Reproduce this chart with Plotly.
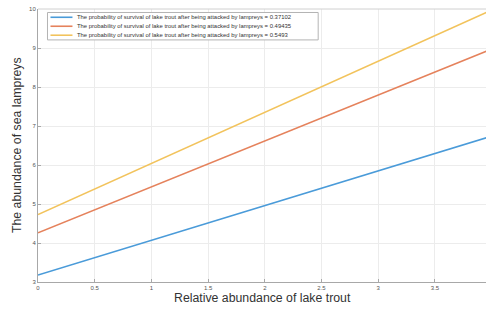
import plotly.graph_objects as go

# Data
x_vals = [0, 4]
survival_probs = ["0.37102", "0.49435", "0.5493"]
blue_vals = [3.18, 6.74]
red_vals = [4.26, 8.97]
yellow_vals = [4.73, 9.97]
series = [blue_vals, red_vals, yellow_vals]
colors = ["#4a9bd9", "#e5825c", "#f2c35c"]
x_ticks = [0, 0.5, 1, 1.5, 2, 2.5, 3, 3.5]
x_tick_labels = ["0", "0.5", "1", "1.5", "2", "2.5", "3", "3.5"]
y_ticks = [3, 4, 5, 6, 7, 8, 9, 10]

W, H = 486, 309
L, R, T, B = 37.5, 0, 8.5, 26.7
pw = W - L - R
ph = H - T - B

fig = go.Figure()
for vals, c in zip(series, colors):
    fig.add_trace(go.Scatter(x=x_vals, y=vals, mode="lines",
                             line=dict(color=c, width=1.6), showlegend=False,
                             hoverinfo="skip"))

def px(xp):
    return (xp - L) / pw

def py(yp):
    return 1 - (yp - T) / ph

shapes = []
annotations = []
# top border line
shapes.append(dict(type="line", xref="paper", yref="paper", x0=0, x1=1, y0=1, y1=1,
                   line=dict(color="#d0d0d0", width=1)))
# Legend box
shapes.append(dict(type="rect", xref="paper", yref="paper",
                   x0=px(47), x1=px(318), y0=py(39.5), y1=py(12),
                   line=dict(color="#b4b4b4", width=1), fillcolor="white", layer="above"))
rows = [16.8, 25.8, 34.8]
for ry, c, p in zip(rows, colors, survival_probs):
    shapes.append(dict(type="line", xref="paper", yref="paper",
                       x0=px(50), x1=px(72), y0=py(ry), y1=py(ry),
                       line=dict(color=c, width=1.6), layer="above"))
    annotations.append(dict(
        xref="paper", yref="paper", x=px(74.5), y=py(ry), xanchor="left", yanchor="middle",
        text=f"The probability of survival of lake trout after being attacked by lampreys = {p}",
        showarrow=False, font=dict(family="Liberation Sans, Arial", size=5.9, color="#333333")))

annotations.append(dict(xref="paper", yref="paper", x=0.5, y=py(298), xanchor="center",
                        yanchor="middle", text="Relative abundance of lake trout", showarrow=False,
                        font=dict(family="Liberation Sans, Arial", size=12.3, color="#333333")))
annotations.append(dict(xref="paper", yref="paper", x=px(16), y=0.5, xanchor="center",
                        yanchor="middle", text="The abundance of sea lampreys", showarrow=False,
                        textangle=-90,
                        font=dict(family="Liberation Sans, Arial", size=12.3, color="#333333")))

fig.update_layout(
    width=W, height=H,
    margin=dict(l=L, r=R, t=T, b=B, pad=0),
    paper_bgcolor="white", plot_bgcolor="white",
    shapes=shapes, annotations=annotations, showlegend=False,
    hovermode=False,
    xaxis=dict(range=[0, 3.95], tickvals=x_ticks, ticktext=x_tick_labels,
               showgrid=True, gridcolor="#ececec", gridwidth=1, zeroline=False,
               showline=True, linecolor="#a8a8a8", linewidth=1,
               ticks="inside", ticklen=3, tickcolor="#a8a8a8",
               tickfont=dict(family="Liberation Sans, Arial", size=6, color="#555555")),
    yaxis=dict(range=[3, 10], tickvals=y_ticks,
               showgrid=True, gridcolor="#ececec", gridwidth=1, zeroline=False,
               showline=True, linecolor="#a8a8a8", linewidth=1,
               ticks="inside", ticklen=3, tickcolor="#a8a8a8",
               tickfont=dict(family="Liberation Sans, Arial", size=6, color="#555555")),
)

fig.write_html("out.html", config={"displayModeBar": False, "staticPlot": True},
               post_script="document.body.style.margin='0';document.body.style.overflow='hidden';")
